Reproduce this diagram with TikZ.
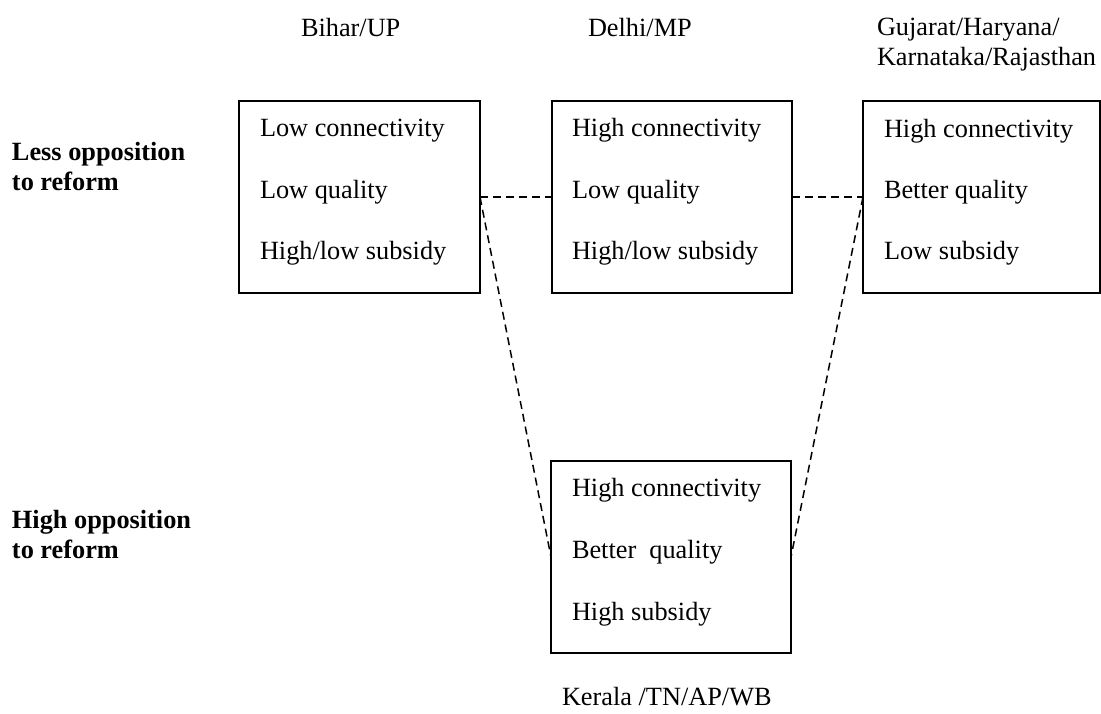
\documentclass[tikz,border=0pt]{standalone}
\usepackage{fontspec}
\setmainfont{Liberation Serif}
\begin{document}
\begin{tikzpicture}[x=1pt,y=-1pt,
  every node/.style={inner sep=0pt,outer sep=0pt},
  txt/.style={anchor=base west,font=\fontsize{26.3}{30}\selectfont,align=left},
  side/.style={txt,font=\fontsize{26.3}{30}\selectfont\bfseries},
  statebox/.style={draw,line width=2pt,minimum width=#1,minimum height=192pt},
  link/.style={dash pattern=on 8pt off 5pt,line width=1.5pt}]
\useasboundingbox (0,0) rectangle (1101,713);
% boxes
\node[statebox=241pt] (b1) at (359.5,197) {};
\node[statebox=240pt] (b2) at (672,197) {};
\node[statebox=237pt] (b3) at (981.5,197) {};
\node[statebox=240pt] (b4) at (671,557) {};
% box texts
\node[txt] (b1a) at (260,136) {Low connectivity};
\node[txt] (b1b) at (260,198) {Low quality};
\node[txt] (b1c) at (260,259) {High/low subsidy};
\node[txt] (b2a) at (572,136) {High connectivity};
\node[txt] (b2b) at (572,198) {Low quality};
\node[txt] (b2c) at (572,259) {High/low subsidy};
\node[txt] (b3a) at (884,137) {High connectivity};
\node[txt] (b3b) at (884,198) {Better quality};
\node[txt] (b3c) at (884,259) {Low subsidy};
\node[txt] (b4a) at (572,496) {High connectivity};
\node[txt] (b4b) at (572,558) {Better\ \ quality};
\node[txt] (b4c) at (572,620) {High subsidy};
% group labels
\node[txt] (g1) at (301,36) {Bihar/UP};
\node[txt] (g2) at (588,36) {Delhi/MP};
\node[txt] (g3) at (877,65) {Gujarat/Haryana/\\Karnataka/Rajasthan};
\node[txt] (g4) at (562,705) {Kerala /TN/AP/WB};
% side labels
\node[side] (s1) at (12,190) {Less opposition\\to reform};
\node[side] (s2) at (12,558) {High opposition\\to reform};
% connectors
\draw[link] (b1.east) -- (b2.west);
\draw[link] (b2.east) -- (b3.west);
\draw[link] (b1.east) -- (b4.west);
\draw[link] (b3.west) -- (b4.east);
\end{tikzpicture}
\end{document}
